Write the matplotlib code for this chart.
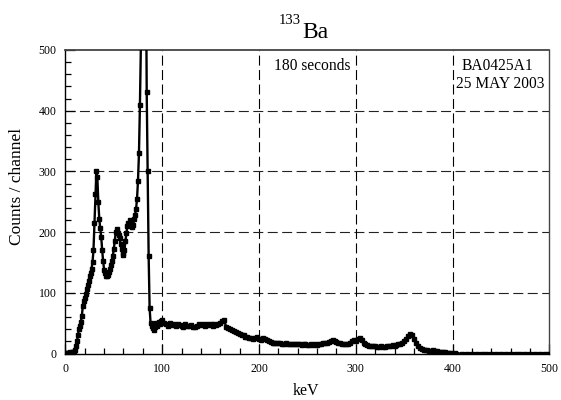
import matplotlib
matplotlib.use("Agg")
import matplotlib.pyplot as plt
from matplotlib.ticker import MultipleLocator

# ---- data ----
energy_low = list(range(0, 101))
counts_low = [1, 0, 1, 1, 1, 2, 1, 2, 2, 3,
              6, 12, 20, 30, 40, 46, 52, 62, 78, 86,
              92, 98, 106, 113, 120, 127, 133, 140, 150, 170,
              215, 262, 300, 290, 250, 222, 206, 192, 170, 152,
              138, 132, 128, 127, 129, 134, 140, 146, 152, 160,
              172, 185, 200, 205, 198, 195, 190, 180, 172, 165,
              162, 170, 185, 198, 210, 215, 212, 220, 218, 208,
              212, 222, 228, 238, 255, 285, 330, 410, 510, 780,
              1100, 1300, 1200, 700, 430, 300, 160, 75, 50, 46,
              48, 42, 38, 44, 50, 46, 48, 52, 48, 53,
              56]

energy_mid = list(range(102, 406, 2))
counts_mid = [50, 48, 46, 50, 47, 48, 45, 49, 47, 46,      # 102-120
              44, 48, 46, 45, 47, 44, 43, 46, 48, 47,      # 122-140
              49, 46, 48, 47, 49, 46, 48, 47, 49, 50,      # 142-160
              53, 56, 44, 42, 40, 39, 37, 35, 34, 32,      # 162-180
              31, 30, 28, 27, 26, 25, 24, 26, 28, 24,      # 182-200
              23, 25, 24, 22, 20, 19, 18, 18, 17, 17,      # 202-220
              17, 16, 16, 17, 16, 15, 16, 15, 15, 16,      # 222-240
              15, 14, 15, 15, 14, 14, 15, 14, 15, 14,      # 242-260
              15, 16, 17, 17, 18, 19, 20, 22, 21, 19,      # 262-280
              18, 17, 16, 15, 15, 16, 18, 20, 22, 21,      # 282-300
              24, 25, 22, 18, 16, 14, 13, 12, 12, 12,      # 302-320
              11, 11, 12, 11, 11, 12, 13, 13, 14, 13,      # 322-340
              14, 15, 16, 18, 20, 24, 29, 32, 30, 24,      # 342-360
              17, 12, 9, 7, 6, 5, 5, 4, 4, 5,              # 362-380
              4, 4, 3, 3, 2, 2, 1, 1, 1, 0,                # 382-400
              1, 0]                                        # 402-404

energy_high = list(range(410, 505, 5))
counts_high = [0] * len(energy_high)

energy = energy_low + energy_mid + energy_high
counts = counts_low + counts_mid + counts_high

x_ticks = [0, 100, 200, 300, 400, 500]
y_ticks = [0, 100, 200, 300, 400, 500]

# ---- figure ----
plt.rcParams['font.family'] = ['Liberation Serif', 'DejaVu Serif']
W, H = 561, 400
fig = plt.figure(figsize=(W / 100, H / 100), dpi=100)
x0, x1 = 65.4, 549.4
y0, y1 = 353.5, 50.0
ax = fig.add_axes([x0 / W, 1 - y0 / H, (x1 - x0) / W, (y0 - y1) / H])

ax.plot(energy, counts, color='black', lw=1.7, marker='s', ms=2.6,
        mec='black', mfc='black', zorder=3)

ax.set_xlim(0, 500)
ax.set_ylim(0, 500)
ax.set_xticks(x_ticks)
ax.set_yticks(y_ticks)
ax.xaxis.set_minor_locator(MultipleLocator(20))
ax.yaxis.set_minor_locator(MultipleLocator(20))
ax.tick_params(which='both', direction='in', top=False, right=False,
               labelsize=8.5, width=0.9, color='black')
ax.tick_params(which='major', length=7, pad=6.5)
ax.tick_params(which='minor', length=4.5)

for v in [100, 200, 300, 400]:
    ax.axvline(v, color='black', lw=0.8, dashes=(9, 4), zorder=1)
    ax.axhline(v, color='#222222', lw=0.8, dashes=(9, 4), zorder=1)

for s in ax.spines.values():
    s.set_color('black')
    s.set_linewidth(1.0)
ax.spines['top'].set_color('#444444')
ax.spines['top'].set_linewidth(1.3)
ax.spines['right'].set_color('#444444')

fig.text(306 / W, 1 - 395 / H, 'keV', ha='center', va='baseline', fontsize=11.5)

fig.text(16.7 / W, 1 - 186 / H, 'Counts / channel', rotation=90,
         ha='center', va='center', fontsize=12.5)

ax.text(255, 467, '180 seconds', ha='center', va='baseline', fontsize=11.2)
ax.text(446, 467, 'BA0425A1', ha='center', va='baseline', fontsize=11.2)
ax.text(449, 438, '25 MAY 2003', ha='center', va='baseline', fontsize=11.2)

# title: superscript 133 + Ba
fig.text(301 / W, 1 - 23.5 / H, '133', ha='right', va='baseline', fontsize=10.5)
fig.text(302 / W, 1 - 38.5 / H, 'Ba', ha='left', va='baseline', fontsize=17)

fig.savefig('out.png', dpi=100)
